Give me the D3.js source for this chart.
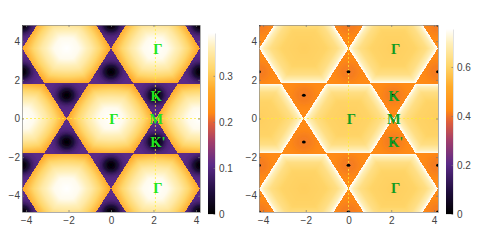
<!DOCTYPE html>
<html>
<head>
<meta charset="utf-8">
<script src="https://cdn.jsdelivr.net/npm/d3@7"></script>
<style>
  html, body { margin: 0; padding: 0; background: #fff; }
  text { font-family: "Liberation Sans", Arial, sans-serif; }
</style>
</head>
<body>
<svg id="canvas" width="481" height="250"></svg>
<script>
// points of the lattice
const gammaX = [0, -4.19, 4.19, -2.09, 2.09, -2.09, 2.09];
const gammaY = [0, 0, 0, 3.63, 3.63, -3.63, -3.63];
const kX = [-2.09, 2.09, -2.09, 2.09, 0, 0, -4.19, 4.19, -4.19, 4.19, 0, 0, -4.19, 4.19, -4.19, 4.19];
const kY = [1.21, 1.21, -1.21, -1.21, 2.42, -2.42, 2.42, 2.42, -2.42, -2.42, 4.84, -4.84, 4.84, 4.84, -4.84, -4.84];

// values read across one hexagon (centre to edge) and one triangle (K outwards)
const leftHexStops = [0, 0.3, 0.6, 0.8, 1, 1.07];
const leftHexValues = [0.393, 0.385, 0.35, 0.315, 0.275, 0.262];
const leftTriStops = [0, 0.15, 0.3, 0.45, 0.6, 0.8, 1.21];
const leftTriValues = [0, 0.012, 0.04, 0.075, 0.095, 0.105, 0.11];

const rightHexStops = [0, 0.5, 0.75, 0.9, 1];
const rightHexValues = [0.59, 0.6, 0.635, 0.69, 0.755];
const rightTriStops = [0, 0.3, 0.6, 1.21];
const rightTriValues = [0.405, 0.41, 0.42, 0.43];

const axisTicks = [-4, -2, 0, 2, 4];
const leftBarTicks = [0, 0.1, 0.2, 0.3];
const rightBarTicks = [0, 0.2, 0.4, 0.6];

const labelNames = ["Γ", "Γ", "Κ", "Μ", "Κ'", "Γ"];
const labelX = [2.21, 0.13, 2.12, 2.12, 2.21, 2.21];
const labelY = [3.6, -0.03, 1.18, -0.03, -1.22, -3.6];

// sunset style colour ramp
const rampStops = [0, 0.12, 0.27, 0.4, 0.5, 0.56, 0.69, 0.8, 0.92, 1];
const rampColors = ["#000000", "#1e0d3c", "#5a2a88", "#a33e6a", "#e0603a", "#ff8a14", "#ffab2a", "#ffd66a", "#ffefb8", "#ffffff"];
const ramp = d3.scaleLinear().domain(rampStops).range(rampColors).clamp(true);

const apothem = 1.81;
const svg = d3.select("#canvas");

const defs = svg.append("defs");
defs.append("filter").attr("id", "soft")
  .attr("x", "-5%").attr("y", "-5%").attr("width", "110%").attr("height", "110%")
  .append("feGaussianBlur").attr("stdDeviation", 0.55);

const hexNorm = (dx, dy) => {
  return Math.max(Math.abs(dy), Math.abs(dx * 0.866 + dy * 0.5), Math.abs(dx * 0.866 - dy * 0.5)) / apothem;
};

const drawPanel = (cfg) => {
  const x = d3.scaleLinear().domain([-4.19, 4.19]).range([cfg.left, cfg.right]);
  const y = d3.scaleLinear().domain([-4.84, 4.84]).range([212, 25]);
  const color = (v) => ramp(v / cfg.barMax);

  const hexValue = d3.scaleLinear().domain(cfg.hexStops).range(cfg.hexValues).clamp(true);
  const triValue = d3.scaleLinear().domain(cfg.triStops).range(cfg.triValues).clamp(true);

  const fieldAt = (px, py) => {
    let best = Infinity;
    let u = 0;
    gammaX.forEach((gx, i) => {
      const n = hexNorm(px - gx, py - gammaY[i]);
      if (n < best) {
        best = n;
        const r = Math.hypot(px - gx, py - gammaY[i]) / apothem;
        u = cfg.hexBlend * n + (1 - cfg.hexBlend) * r;
      }
    });
    if (best <= 1) return hexValue(u);
    const d = d3.min(kX, (kx, i) => Math.hypot(px - kx, py - kY[i]));
    return triValue(d);
  };

  // one cell per pixel, a little past the frame so the blur has something to eat
  const cellsX = d3.range(cfg.left - 2, cfg.right + 2);
  const cellsY = d3.range(23, 214);
  const cells = [];
  cellsX.forEach((cx) => {
    cellsY.forEach((cy) => {
      cells.push({ px: x.invert(cx + 0.5), py: y.invert(cy + 0.5) });
    });
  });

  const clipId = "clip" + cfg.left;
  defs.append("clipPath").attr("id", clipId).append("rect")
    .attr("x", cfg.left).attr("y", 25)
    .attr("width", cfg.right - cfg.left).attr("height", 187);

  const plot = svg.append("g").attr("clip-path", "url(#" + clipId + ")");

  const w = (x.domain()[1] - x.domain()[0]) / (cfg.right - cfg.left);
  const h = (y.domain()[1] - y.domain()[0]) / 187;
  plot.append("g")
    .attr("filter", "url(#soft)")
    .attr("shape-rendering", "crispEdges")
    .selectAll("rect")
    .data(cells)
    .enter()
    .append("rect")
    .attr("x", (d) => x(d.px - w / 2))
    .attr("y", (d) => y(d.py + h / 2))
    .attr("width", 1.05)
    .attr("height", 1.05)
    .attr("fill", (d) => color(fieldAt(d.px, d.py)));

  // dashed guide lines
  plot.append("line")
    .attr("x1", cfg.left).attr("x2", cfg.right)
    .attr("y1", y(0)).attr("y2", y(0));
  plot.append("line")
    .attr("x1", x(cfg.guideX)).attr("x2", x(cfg.guideX))
    .attr("y1", 25).attr("y2", 212);
  plot.selectAll("line")
    .attr("stroke", "#ffee30")
    .attr("stroke-opacity", 0.75)
    .attr("stroke-width", 1)
    .attr("stroke-dasharray", "2,2");

  // the small black spots at K on the right hand map
  if (cfg.spots) {
    plot.selectAll("ellipse")
      .data(kX.map((kx, i) => [kx, kY[i]]))
      .enter()
      .append("ellipse")
      .attr("cx", (d) => x(d[0]))
      .attr("cy", (d) => y(d[1]))
      .attr("rx", 1.9)
      .attr("ry", 1.5)
      .attr("fill", "#000");
  }

  // frame
  const styleAxis = (g) => {
    g.select(".domain").attr("stroke", "#8a8a8a").attr("stroke-width", 0.7);
    g.selectAll(".tick line").attr("stroke", "#777").attr("stroke-width", 0.7);
    g.selectAll(".tick text").attr("fill", "#444").attr("font-size", 10).attr("font-family", "Liberation Sans");
  };
  svg.append("g").attr("transform", "translate(0,212)")
    .call(d3.axisBottom(x).tickValues(axisTicks).tickSize(-2).tickPadding(5).tickSizeOuter(0))
    .call(styleAxis);
  svg.append("g").attr("transform", "translate(" + cfg.left + ",0)")
    .call(d3.axisLeft(y).tickValues(axisTicks).tickSize(-2).tickPadding(2).tickSizeOuter(0))
    .call(styleAxis);
  svg.append("g").attr("transform", "translate(0,25)")
    .call(d3.axisTop(x).tickValues(axisTicks).tickSize(-2).tickFormat("").tickSizeOuter(0))
    .call(styleAxis);
  svg.append("g").attr("transform", "translate(" + cfg.right + ",0)")
    .call(d3.axisRight(y).tickValues(axisTicks).tickSize(-2).tickFormat("").tickSizeOuter(0))
    .call(styleAxis);

  // point labels
  svg.append("g").selectAll("text")
    .data(labelNames)
    .enter()
    .append("text")
    .attr("x", (d, i) => x(labelX[i]))
    .attr("y", (d, i) => y(labelY[i]))
    .attr("dy", "0.34em")
    .attr("text-anchor", "middle")
    .attr("fill", cfg.labelColor)
    .style("font-family", "'Liberation Serif', serif")
    .style("font-weight", "bold")
    .style("font-size", "14.5px")
    .text((d) => d);

  // colour bar
  const bar = d3.scaleLinear().domain([0, cfg.barMax]).range([214, cfg.barTop]);
  const barCells = d3.range(cfg.barTop, 214).map((py) => bar.invert(py + 0.5));
  svg.append("g").selectAll("rect")
    .data(barCells)
    .enter()
    .append("rect")
    .attr("x", cfg.barLeft)
    .attr("y", (d) => bar(d) - 0.5)
    .attr("width", 7)
    .attr("height", 1.1)
    .attr("fill", (d) => color(d));
  svg.append("g").attr("transform", "translate(" + (cfg.barLeft + 7) + ",0)")
    .call(d3.axisRight(bar).tickValues(cfg.barTicks).tickFormat((d) => (d === 0 ? "0" : d3.format(".1f")(d))).tickSize(-1.5).tickPadding(4).tickSizeOuter(0))
    .call((g) => {
      styleAxis(g);
      g.select(".domain").attr("stroke", "#c4c4c4").attr("stroke-width", 0.5);
    });
};

drawPanel({
  left: 22, right: 200, guideX: 2.09, labelColor: "#1fe61f", spots: false,
  hexStops: leftHexStops, hexValues: leftHexValues, triStops: leftTriStops, triValues: leftTriValues, hexBlend: 0.6,
  barLeft: 208, barTop: 33, barMax: 0.393, barTicks: leftBarTicks
});

drawPanel({
  left: 259, right: 438, guideX: 0, labelColor: "#129c22", spots: true,
  hexStops: rightHexStops, hexValues: rightHexValues, triStops: rightTriStops, triValues: rightTriValues, hexBlend: 1,
  barLeft: 446, barTop: 29, barMax: 0.755, barTicks: rightBarTicks
});
</script>
</body>
</html>
